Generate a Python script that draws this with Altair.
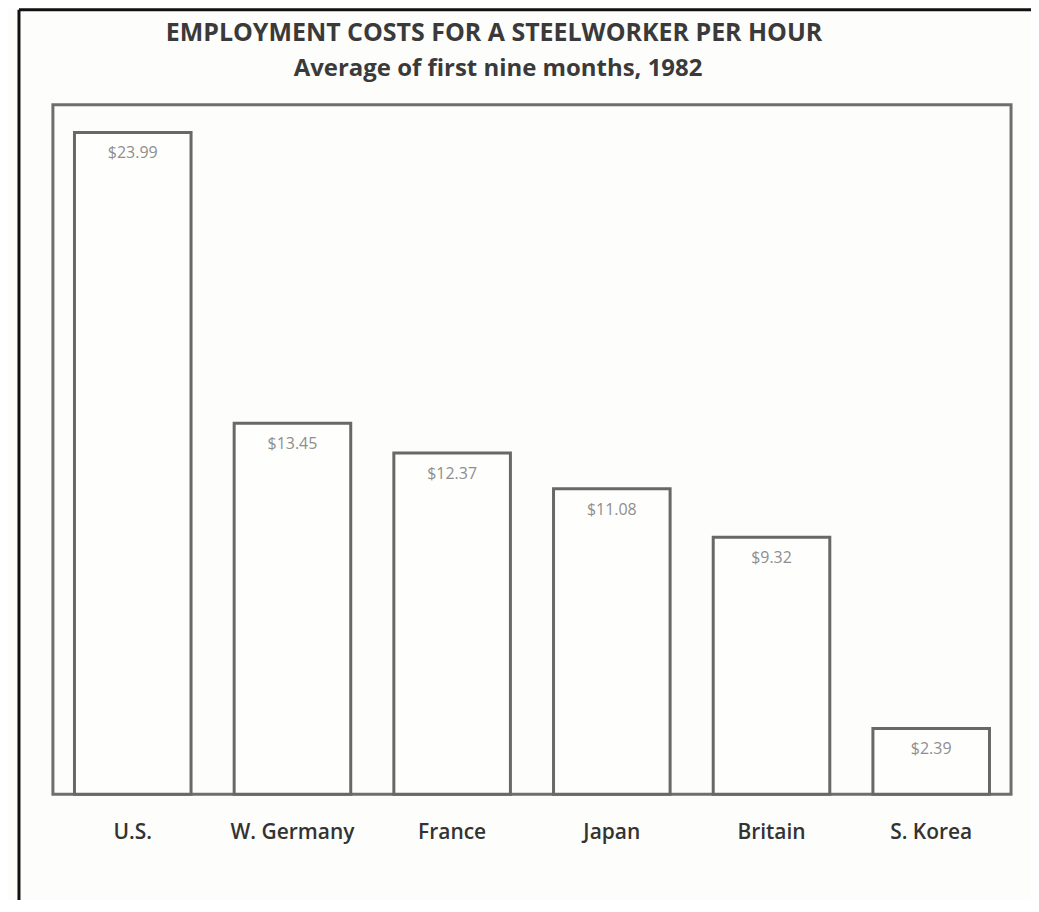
import altair as alt
import pandas as pd

countries = ["U.S.", "W. Germany", "France", "Japan", "Britain", "S. Korea"]
costs = [23.99, 13.45, 12.37, 11.08, 9.32, 2.39]
title_text = "EMPLOYMENT COSTS FOR A STEELWORKER PER HOUR"
subtitle_text = "Average of first nine months, 1982"

df = pd.DataFrame({"country": countries, "cost": costs})
one = pd.DataFrame({"k": [0]})

x = alt.X(
    "country:N",
    sort=None,
    scale=alt.Scale(paddingInner=0.27, paddingOuter=0.135),
    axis=alt.Axis(
        title=None,
        labelAngle=0,
        ticks=False,
        domain=False,
        labelPadding=27,
        labelFont="Open Sans",
        labelFontSize=21,
        labelFontWeight=600,
        labelColor="#333333",
        grid=False,
    ),
)
y = alt.Y("cost:Q", scale=alt.Scale(domain=[0, 25], nice=False, zero=True), axis=None)

bars = alt.Chart(df).mark_bar(
    fill="#fefefd", stroke="#686868", strokeWidth=3
).encode(x=x, y=y)

labels = alt.Chart(df).mark_text(
    baseline="middle", dy=21, fontSize=16, color="#8e8e8e", font="Open Sans"
).encode(x=x, y=y, text=alt.Text("cost:Q", format="$.2f"))

title = alt.Chart(one).mark_text(
    font="Open Sans", fontSize=25, fontWeight="bold", color="#3a3a3a",
    align="center", baseline="middle"
).encode(x=alt.value(442), y=alt.value(-72), text=alt.value(title_text))

subtitle = alt.Chart(one).mark_text(
    font="Open Sans", fontSize=24, fontWeight="bold", color="#3a3a3a",
    align="center", baseline="middle"
).encode(x=alt.value(446), y=alt.value(-36), text=alt.value(subtitle_text))

top_line = alt.Chart(one).mark_rule(color="#111111", strokeWidth=3).encode(
    x=alt.value(-34), x2=alt.value(1000), y=alt.value(-95)
)
left_line = alt.Chart(one).mark_rule(color="#111111", strokeWidth=3).encode(
    x=alt.value(-34), y=alt.value(-95), y2=alt.value(820)
)

chart = alt.layer(bars, labels, title, subtitle, top_line, left_line).properties(
    width=960,
    height=691,
    padding={"left": 45, "top": 96, "right": 20, "bottom": 105},
    autosize=alt.AutoSizeParams(type="none"),
    background="#fdfdfb",
).configure_view(stroke="#6e6e6e", strokeWidth=3)

chart.save("out.html", embed_options={"renderer": "svg", "actions": False})
